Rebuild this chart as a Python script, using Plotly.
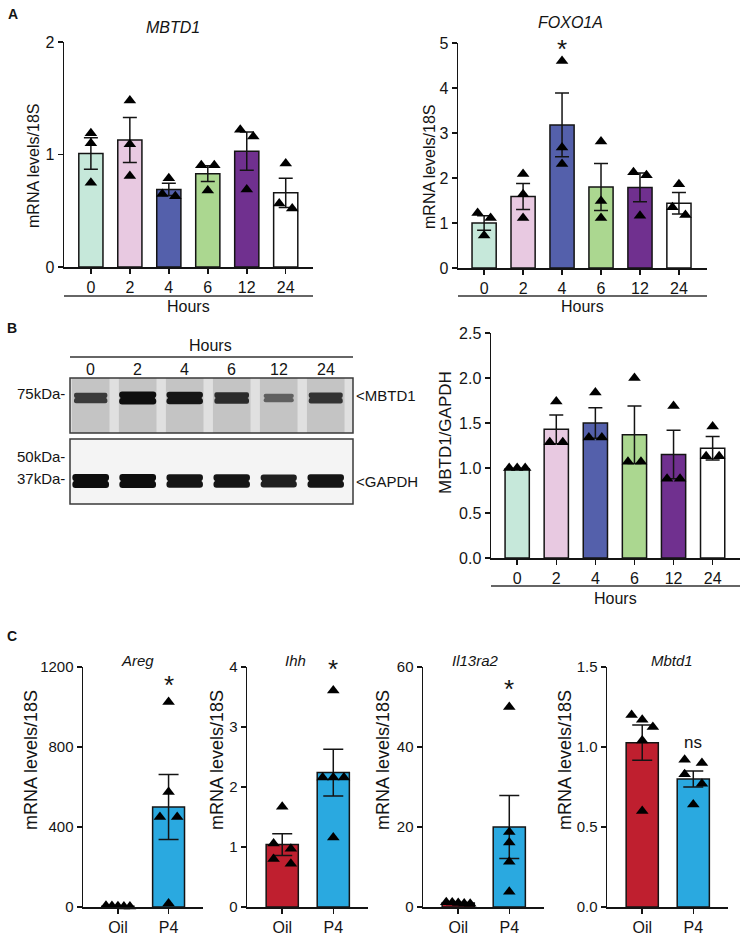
import plotly.graph_objects as go

# ---------------- data ----------------
hours = ['0', '2', '4', '6', '12', '24']
hour_colors = ['#c6e8da', '#e8c9e1', '#5460ab', '#abd790', '#70308f', '#ffffff']

mbtd1_mean = [1.01, 1.13, 0.69, 0.83, 1.03, 0.66]
mbtd1_sem = [0.14, 0.20, 0.055, 0.07, 0.17, 0.13]
mbtd1_pts = [[1.19, 1.10, 0.75], [1.48, 1.09, 0.81], [0.79, 0.63, 0.65],
             [0.905, 0.905, 0.68], [1.22, 1.16, 0.69], [0.92, 0.52, 0.565]]

foxo_mean = [1.00, 1.59, 3.18, 1.80, 1.79, 1.44]
foxo_sem = [0.16, 0.29, 0.71, 0.52, 0.32, 0.24]
foxo_pts = [[1.22, 1.11, 0.72], [2.09, 1.64, 1.11], [4.60, 2.68, 2.31],
            [2.81, 1.49, 1.11], [2.13, 2.06, 1.16], [1.86, 1.35, 1.18]]

wb_mean = [0.99, 1.43, 1.50, 1.37, 1.15, 1.22]
wb_sem = [0.005, 0.16, 0.17, 0.32, 0.27, 0.13]
wb_pts = [[1.0, 1.0, 1.0], [1.74, 1.285, 1.285], [1.84, 1.34, 1.34],
          [2.0, 1.07, 1.07], [1.69, 0.88, 0.88], [1.46, 1.13, 1.13]]

mbtd1_band = [0.70, 1.00, 0.95, 0.80, 0.45, 0.75]
gapdh_band = [1.00, 1.00, 0.95, 0.95, 0.88, 0.95]

groups = ['Oil', 'P4']
group_colors = ['#bf1f2f', '#2aa9e0']

areg_mean = [4, 500]
areg_sem = [1, 163]
areg_pts = [[5, 3, 6, 4, 2], [1025, 575, 450, 450, 17]]

ihh_mean = [1.04, 2.24]
ihh_sem = [0.18, 0.39]
ihh_pts = [[1.67, 1.06, 0.97, 0.72, 0.80], [3.61, 2.16, 2.16, 2.16, 1.16]]

il13_mean = [1.0, 20.0]
il13_sem = [0.1, 7.9]
il13_pts = [[1.2, 0.9, 1.1, 0.8, 1.0], [50, 16.1, 18.75, 11.3, 3.8]]

mbc_mean = [1.027, 0.80]
mbc_sem = [0.11, 0.05]
mbc_pts = [[1.17, 1.125, 1.2, 1.04, 0.60], [0.90, 0.92, 0.83, 0.77, 0.64]]

# ---------------- layout helpers ----------------
W, H = 742, 939
FONT = 'Arial, "Liberation Sans", sans-serif'
INK = '#141414'
SPREAD = {1: 0, 2: 13, 3: 8, 4: 6, 5: 4.5}

fig = go.Figure()
layout = {}
annotations = []
shapes = []


def px_x(p):
    return p / W


def px_y(p):
    return 1 - p / H


def ax_names(n):
    return ('xaxis' if n == 1 else f'xaxis{n}', 'yaxis' if n == 1 else f'yaxis{n}',
            'x' if n == 1 else f'x{n}', 'y' if n == 1 else f'y{n}')


def swarm(vals, ppu, scale, h=10):
    idx = sorted(range(len(vals)), key=lambda i: -vals[i])
    clusters, cur = [], [idx[0]]
    for a, b in zip(idx, idx[1:]):
        if (vals[a] - vals[b]) * ppu < h:
            cur.append(b)
        else:
            clusters.append(cur)
            cur = [b]
    clusters.append(cur)
    offs = [0.0] * len(vals)
    for c in clusters:
        m = len(c)
        d = SPREAD.get(m, 4.5) * scale
        for j, i in enumerate(c):
            offs[i] = (j - (m - 1) / 2) * d
    return offs


def bar_panel(n, cats, colors, means, sems, pts, xpx, ypx, xr, yr, ytv, ytt,
              bw, ytick_size, xtick_size, cap, spread_scale):
    xa, ya, xr_, yr_ = ax_names(n)
    layout[xa] = dict(domain=[px_x(xpx[0]), px_x(xpx[1])], range=xr, anchor=yr_,
                      tickvals=list(range(len(cats))), ticktext=cats,
                      showline=True, linecolor=INK, linewidth=1.5,
                      ticks='outside', ticklen=5, tickwidth=1.5, tickcolor=INK,
                      showgrid=False, zeroline=False, automargin=False,
                      tickfont=dict(size=xtick_size, color=INK), fixedrange=True)
    layout[ya] = dict(domain=[px_y(ypx[1]), px_y(ypx[0])], range=yr, anchor=xr_,
                      tickvals=ytv, ticktext=ytt,
                      showline=True, linecolor=INK, linewidth=1.5,
                      ticks='outside', ticklen=5, tickwidth=1.5, tickcolor=INK,
                      showgrid=False, zeroline=False, automargin=False,
                      tickfont=dict(size=ytick_size, color=INK), fixedrange=True)
    xs = list(range(len(cats)))
    fig.add_trace(go.Bar(x=xs, y=means, width=bw, xaxis=xr_, yaxis=yr_,
                         marker=dict(color=colors, line=dict(color=INK, width=1.5)),
                         error_y=dict(type='data', array=sems, color=INK,
                                      thickness=1.5, width=cap),
                         hoverinfo='skip'))
    ppx = (xpx[1] - xpx[0]) / (xr[1] - xr[0])
    ppu = (ypx[1] - ypx[0]) / (yr[1] - yr[0])
    px_list, py_list = [], []
    for i, vals in enumerate(pts):
        offs = swarm(vals, ppu, spread_scale)
        for v, o in zip(vals, offs):
            px_list.append(i + o / ppx)
            py_list.append(v)
    fig.add_trace(go.Scatter(x=px_list, y=py_list, mode='markers', xaxis=xr_, yaxis=yr_,
                             marker=dict(symbol='triangle-up', size=11, color='black',
                                         line=dict(width=0)),
                             cliponaxis=False, hoverinfo='skip'))


def ann(text, x, y, size, xanchor='center', yanchor='middle', textangle=0,
        italic=False, bold=False, xref='paper', yref='paper'):
    t = text
    if bold:
        t = f'<b>{t}</b>'
    if italic:
        t = f'<i>{t}</i>'
    annotations.append(dict(text=t, x=x if xref != 'paper' else px_x(x),
                            y=y if yref != 'paper' else px_y(y),
                            xref=xref, yref=yref, showarrow=False,
                            xanchor=xanchor, yanchor=yanchor, textangle=textangle,
                            font=dict(size=size, color=INK, family=FONT)))


def hours_bar(x0, x1, y, ytext):
    shapes.append(dict(type='line', xref='paper', yref='paper', x0=px_x(x0), x1=px_x(x1),
                       y0=px_y(y), y1=px_y(y), line=dict(color='#333333', width=1.5)))
    ann('Hours', (x0 + x1) / 2, ytext, 16)


# ---------------- Panel A ----------------
bar_panel(1, hours, hour_colors, mbtd1_mean, mbtd1_sem, mbtd1_pts,
          (64, 313), (42, 267), [-0.69, 5.7], [0, 2], [0, 1, 2], ['0', '1', '2'],
          0.62, 16, 16, 7, 1.0)
bar_panel(2, hours, hour_colors, foxo_mean, foxo_sem, foxo_pts,
          (458, 707), (43, 268), [-0.67, 5.72], [0, 5], [0, 1, 2, 3, 4, 5],
          ['0', '1', '2', '3', '4', '5'], 0.62, 16, 16, 7, 1.0)
ann('A', 13, 14, 14, bold=True)
ann('MBTD1', 173, 27, 16, italic=True)
ann('FOXO1A', 570, 22, 16, italic=True)
ann('mRNA levels/18S', 33, 166, 16, textangle=-90)
ann('mRNA levels/18S', 429, 167, 16, textangle=-90)
hours_bar(64, 313, 296, 306)
hours_bar(458, 707, 296, 306)
ann('*', 2, 4.87, 26, xref='x2', yref='y2')

# ---------------- Panel B : blot ----------------
ann('B', 12, 328, 14, bold=True)
xa, ya, xr_, yr_ = ax_names(3)
BLOT_X = (70, 353)
BLOT_Y = (378, 504)
layout[xa] = dict(domain=[px_x(BLOT_X[0]), px_x(BLOT_X[1])], range=[-0.44, 5.58],
                  anchor=yr_, visible=False, fixedrange=True, automargin=False)
layout[ya] = dict(domain=[px_y(BLOT_Y[1]), px_y(BLOT_Y[0])], range=[0, 1],
                  anchor=xr_, visible=False, fixedrange=True, automargin=False)
bh = BLOT_Y[1] - BLOT_Y[0]
top_box = (378, 433)
bot_box = (439, 504)
shapes.append(dict(type='rect', xref='paper', yref='paper', layer='below',
                   x0=px_x(BLOT_X[0]), x1=px_x(BLOT_X[1]),
                   y0=px_y(top_box[1]), y1=px_y(top_box[0]),
                   fillcolor='#e0e0e0', line=dict(width=0)))
shapes.append(dict(type='rect', xref='paper', yref='paper', layer='below',
                   x0=px_x(BLOT_X[0]), x1=px_x(BLOT_X[1]),
                   y0=px_y(bot_box[1]), y1=px_y(bot_box[0]),
                   fillcolor='#f4f4f4', line=dict(width=0)))
lanes = list(range(len(hours)))
# lane smear in top blot
lane_base = (BLOT_Y[1] - top_box[1]) / bh
lane_h = (top_box[1] - top_box[0]) / bh
fig.add_trace(go.Bar(x=lanes, y=[lane_h] * len(lanes), base=lane_base, width=0.8,
                     xaxis=xr_, yaxis=yr_, marker=dict(color='#c4c4c4', line=dict(width=0)),
                     hoverinfo='skip'))


def gray(v):
    g = int(14 + 150 * (1 - v))
    return f'rgb({g},{g},{g})'


def bands(intens, center_px, thick_min, thick_gain, w0, wgain):
    c = (BLOT_Y[1] - center_px) / bh
    th = [(thick_min + thick_gain * v) / bh for v in intens]
    wd = [w0 + wgain * v for v in intens]
    cols = [gray(v) for v in intens]
    for sgn in (1, -1):
        fig.add_trace(go.Bar(x=lanes, y=[sgn * t / 2 for t in th], base=c, width=wd,
                             xaxis=xr_, yaxis=yr_,
                             marker=dict(color=cols, line=dict(width=0), cornerradius=6),
                             hoverinfo='skip'))
    # solid core to hide the seam between the halves
    fig.add_trace(go.Bar(x=lanes, y=[t * 0.6 for t in th], base=[c - t * 0.3 for t in th],
                         width=[w - 0.06 for w in wd], xaxis=xr_, yaxis=yr_,
                         marker=dict(color=cols, line=dict(width=0)),
                         hoverinfo='skip'))


bands(mbtd1_band, 398, 5, 8, 0.52, 0.27)
bands(gapdh_band, 481, 4, 10, 0.70, 0.08)

for b in (top_box, bot_box):
    shapes.append(dict(type='rect', xref='paper', yref='paper', layer='above',
                       x0=px_x(BLOT_X[0]), x1=px_x(BLOT_X[1]),
                       y0=px_y(b[1]), y1=px_y(b[0]),
                       fillcolor='rgba(0,0,0,0)', line=dict(color='#3a3a3a', width=1.5)))
for i, h in enumerate(hours):
    ann(h, i, 369, 16, xref=xr_, yref='paper')
shapes.append(dict(type='line', xref='paper', yref='paper', x0=px_x(70), x1=px_x(353),
                   y0=px_y(357), y1=px_y(357), line=dict(color='#333333', width=1.5)))
ann('Hours', 210, 345, 16)
ann('75kDa-', 67, 393, 15, xanchor='right')
ann('50kDa-', 67, 456, 15, xanchor='right')
ann('37kDa-', 67, 478, 15, xanchor='right')
ann('<MBTD1', 354, 396, 15, xanchor='left')
ann('<GAPDH', 354, 481, 15, xanchor='left')

# ---------------- Panel B : chart ----------------
bar_panel(4, hours, hour_colors, wb_mean, wb_sem, wb_pts,
          (491, 740), (333, 558), [-0.67, 5.7], [0, 2.5],
          [0, 0.5, 1.0, 1.5, 2.0, 2.5], ['0.0', '0.5', '1.0', '1.5', '2.0', '2.5'],
          0.62, 16, 16, 7, 1.0)
ann('MBTD1/GAPDH', 445, 433, 17, textangle=-90)
hours_bar(491, 740, 586, 598)

# ---------------- Panel C ----------------
ann('C', 12, 636, 14, bold=True)
C_Y = (667, 907)
C_XR = [-0.69, 1.68]
c_specs = [
    (5, areg_mean, areg_sem, areg_pts, (83, 203), [0, 1200], [0, 400, 800, 1200],
     ['0', '400', '800', '1200'], 'Areg', 31, 137),
    (6, ihh_mean, ihh_sem, ihh_pts, (247, 368), [0, 4], [0, 1, 2, 3, 4],
     ['0', '1', '2', '3', '4'], 'Ihh', 217, 295),
    (7, il13_mean, il13_sem, il13_pts, (423, 544), [0, 60], [0, 20, 40, 60],
     ['0', '20', '40', '60'], 'Il13ra2', 383, 475),
    (8, mbc_mean, mbc_sem, mbc_pts, (607, 728), [0, 1.5], [0, 0.5, 1.0, 1.5],
     ['0.0', '0.5', '1.0', '1.5'], 'Mbtd1', 565, 672),
]
for n, m, s, p, xpx, yr, tv, tt, title, ytx, ttx in c_specs:
    bar_panel(n, groups, group_colors, m, s, p, xpx, C_Y, C_XR, yr, tv, tt,
              0.63, 15, 16, 10, 1.33)
    ann(title, ttx, 660, 15, italic=True)
    ann('mRNA levels/18S', ytx, 760, 18, textangle=-90)

ann('*', 1, 1110, 26, xref='x5', yref='y5')
ann('*', 1, 3.97, 26, xref='x6', yref='y6')
ann('*', 1, 54.5, 26, xref='x7', yref='y7')
ann('ns', 1, 1.03, 17, xref='x8', yref='y8')

layout.update(dict(template='none', width=W, height=H,
                   margin=dict(l=0, r=0, t=0, b=0, pad=0, autoexpand=False),
                   paper_bgcolor='white', plot_bgcolor='rgba(0,0,0,0)',
                   showlegend=False, barmode='overlay',
                   font=dict(family=FONT, color=INK),
                   annotations=annotations, shapes=shapes))
fig.update_layout(**layout)
fig.write_html('out.html', config={'displayModeBar': False, 'staticPlot': True},
               post_script="document.body.style.margin='0px';"
                           "document.body.style.overflow='hidden';")
